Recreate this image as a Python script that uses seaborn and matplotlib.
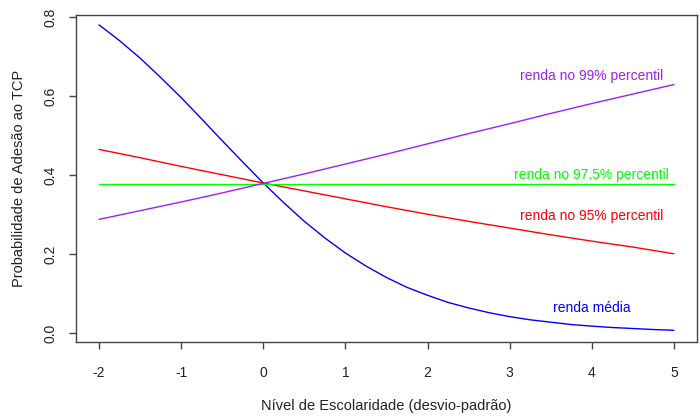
import pandas as pd
import matplotlib.pyplot as plt
import seaborn as sns

# nível de escolaridade (desvio-padrão)
escolaridade = [-2, -1.5, -1, -0.5, 0, 0.5, 1, 1.5, 2, 2.5, 3, 3.5, 4, 4.5, 5]
escolaridade_fina = [-2, -1.75, -1.5, -1.25, -1, -0.75, -0.5, -0.25, 0, 0.25, 0.5, 0.75,
                     1, 1.25, 1.5, 1.75, 2, 2.25, 2.5, 2.75, 3, 3.25, 3.5, 3.75,
                     4, 4.25, 4.5, 4.75, 5]

# probabilidades
renda_media = [0.780, 0.740, 0.696, 0.647, 0.596, 0.542, 0.487, 0.433, 0.380, 0.330,
               0.283, 0.241, 0.203, 0.170, 0.141, 0.116, 0.096, 0.078, 0.064, 0.052,
               0.042, 0.034, 0.028, 0.022, 0.018, 0.0145, 0.012, 0.0094, 0.0075]
renda_p95 = [0.465, 0.444, 0.422, 0.401, 0.380, 0.360, 0.340, 0.320, 0.301,
             0.283, 0.266, 0.249, 0.233, 0.218, 0.201]
renda_p975 = [0.378] * len(escolaridade)
renda_p99 = [0.288, 0.310, 0.332, 0.355, 0.379, 0.403, 0.428, 0.453, 0.479,
             0.505, 0.530, 0.556, 0.581, 0.605, 0.629]

series = {
    'renda média': (escolaridade_fina, renda_media),
    'renda no 95% percentil': (escolaridade, renda_p95),
    'renda no 97.5% percentil': (escolaridade, renda_p975),
    'renda no 99% percentil': (escolaridade, renda_p99),
}
cores = {
    'renda média': '#0000FF',
    'renda no 95% percentil': '#FF0000',
    'renda no 97.5% percentil': '#00FF00',
    'renda no 99% percentil': '#A020F0',
}
# posição dos rótulos (em unidades dos dados)
rotulos = {
    'renda média': (4, 0.064),
    'renda no 95% percentil': (4, 0.296),
    'renda no 97.5% percentil': (4, 0.399),
    'renda no 99% percentil': (4, 0.65),
}

df = pd.concat([
    pd.DataFrame({'x': xs, 'prob': ys, 'serie': k}) for k, (xs, ys) in series.items()
], ignore_index=True)

sns.set_style('white')
plt.rcParams['font.family'] = ['Liberation Sans', 'DejaVu Sans']
plt.rcParams['axes.unicode_minus'] = False

fig = plt.figure(figsize=(7, 4.16), dpi=100)
ax = fig.add_axes([0.1086, 0.178, 0.887, 0.786])

sns.lineplot(data=df, x='x', y='prob', hue='serie', palette=cores,
             linewidth=1.0, legend=False, ax=ax)

for nome, (tx, ty) in rotulos.items():
    ax.text(tx, ty, nome, color=cores[nome], fontsize=10, ha='center', va='center')

ax.set_xlim(-2.28, 5.28)
ax.set_ylim(-0.022, 0.805)
ax.set_xticks(range(-2, 6))
ax.set_yticks([0.0, 0.2, 0.4, 0.6, 0.8])
ax.set_yticklabels(['0.0', '0.2', '0.4', '0.6', '0.8'], rotation=90, va='center')

for s in ax.spines.values():
    s.set_visible(True)
    s.set_color('#444444')
    s.set_linewidth(1.0)

ax.tick_params(axis='both', direction='out', length=5, width=1.0, color='#444444',
               labelsize=10, labelcolor='#222222')
ax.tick_params(axis='x', pad=12, bottom=True)
ax.tick_params(axis='y', pad=8, left=True)

ax.set_xlabel('Nível de Escolaridade (desvio-padrão)', fontsize=10.5, color='#222222', labelpad=14)
ax.set_ylabel('Probabilidade de Adesão ao TCP', fontsize=10.5, color='#222222', labelpad=13)

fig.savefig('out.png', dpi=100)
